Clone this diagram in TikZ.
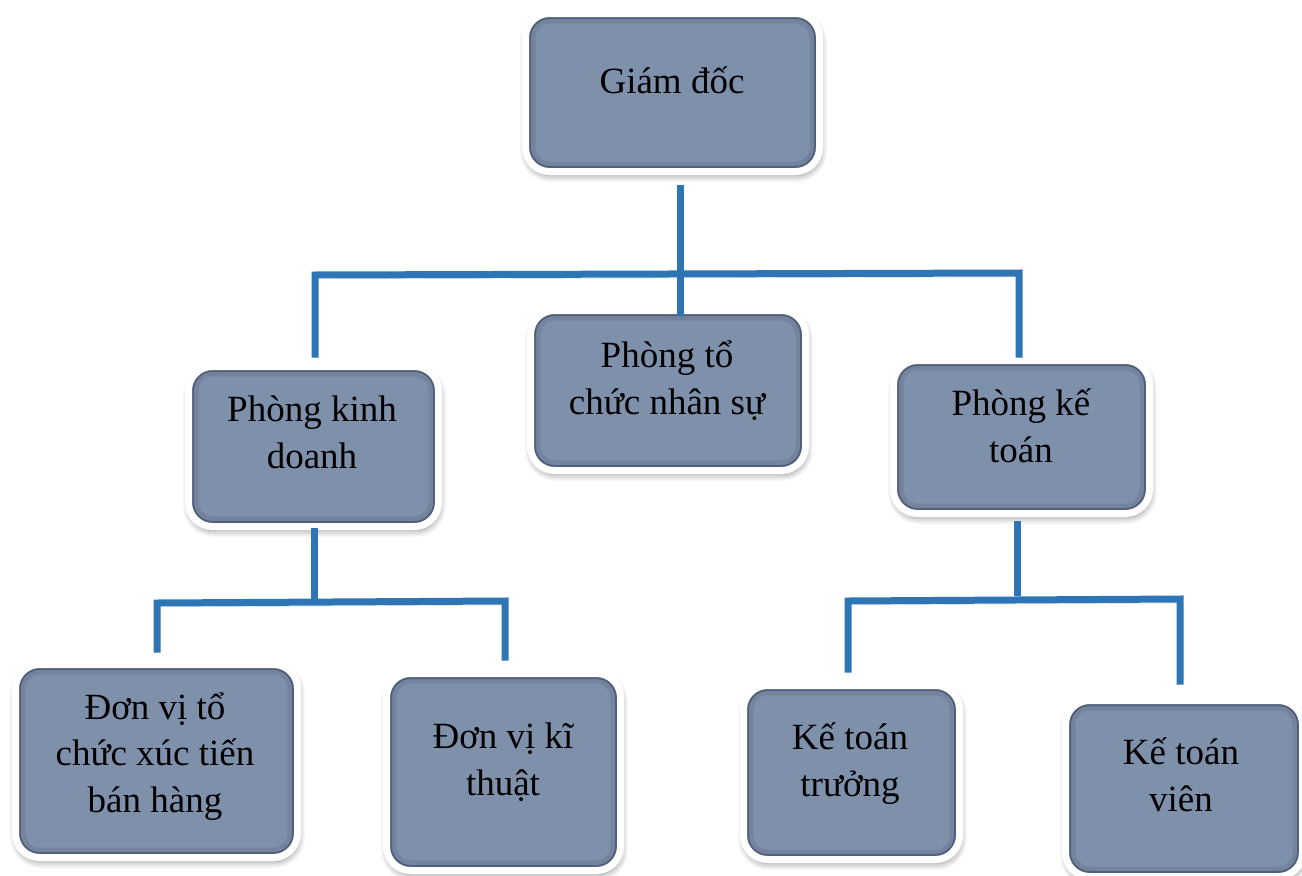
\documentclass[tikz,border=0pt]{standalone}
\usepackage{fontspec}
\setmainfont{Liberation Serif}
\usetikzlibrary{calc,shadows.blur}

\definecolor{boxfill}{RGB}{127,144,171}
\definecolor{boxedge}{RGB}{40,52,75}
\definecolor{linkblue}{RGB}{46,117,182}

\tikzset{
  orgbox/.style={draw=white, line width=7pt, fill=boxfill, rounded corners=24pt,
    inner sep=0pt, outer sep=0pt,
    blur shadow={shadow xshift=1pt, shadow yshift=-4pt, shadow blur steps=10,
      shadow opacity=45, shadow blur radius=7pt, shadow blur extra rounding=6pt},
    path picture={
      \draw[line width=20pt, draw=boxedge, opacity=0.12, rounded corners=24pt]
        (path picture bounding box.south west) rectangle (path picture bounding box.north east);
      \draw[line width=11pt, draw=boxedge, opacity=0.45, rounded corners=24pt]
        (path picture bounding box.south west) rectangle (path picture bounding box.north east);
    }},
  orgtext/.style={align=center, anchor=base, inner sep=0pt, text=black,
    font=\fontsize{37}{46.5}\selectfont},
  conn/.style={draw=linkblue, line width=7pt, line join=miter, line cap=butt,
    preaction={draw=black, opacity=0.18, transform canvas={shift={(1pt,-4pt)}}}}
}

\begin{document}
\begin{tikzpicture}[x=1pt, y=-1pt]
\useasboundingbox (0,0) rectangle (1302,876);

% boxes
\node[orgbox, minimum width=294pt, minimum height=158pt] (gd)  at (672.5,92.5) {};
\node[orgbox, minimum width=250pt, minimum height=160pt] (pkd) at (313.5,446.5) {};
\node[orgbox, minimum width=275pt, minimum height=160pt] (ptc) at (668,390.5) {};
\node[orgbox, minimum width=256pt, minimum height=153pt] (pkt) at (1021.5,437) {};
\node[orgbox, minimum width=282pt, minimum height=193pt] (dv1) at (156.5,761) {};
\node[orgbox, minimum width=234pt, minimum height=197pt] (dv2) at (503.5,772) {};
\node[orgbox, minimum width=216pt, minimum height=174pt] (ktt) at (851.5,772.5) {};
\node[orgbox, minimum width=237pt, minimum height=176pt] (ktv) at (1184,788.5) {};

% texts (anchor base = baseline of the last line)
\node[orgtext] (gdt)  at (672,93)   {Giám đốc};
\node[orgtext] (pkdt) at (312,468)  {Phòng kinh\\doanh};
\node[orgtext] (ptct) at (667,414)  {Phòng tổ\\chức nhân sự};
\node[orgtext] (pktt) at (1021,462) {Phòng kế\\toán};
\node[orgtext] (dv1t) at (155,812)  {Đơn vị tổ\\chức xúc tiến\\bán hàng};
\node[orgtext] (dv2t) at (503,795)  {Đơn vị kĩ\\thuật};
\node[orgtext] (kttt) at (850,796)  {Kế toán\\trưởng};
\node[orgtext] (ktvt) at (1181,811) {Kế toán\\viên};

% junction coordinates
\coordinate (j1) at (680,274);
\coordinate (bl) at (315,275);
\coordinate (br) at (1019,273);
\coordinate (k1) at (314,600);
\coordinate (kl) at (157,603);
\coordinate (kr) at (505,601);
\coordinate (m1) at (1017,596);
\coordinate (ml) at (848,601);
\coordinate (mr) at (1180,599);

% connectors
\draw[conn] ($(gd.south -| j1)+(0,13)$) -- ($(ptc.north -| j1)+(0,5)$);
\draw[conn] ($(pkd.north -| bl)+(0,-9)$) -- (bl) -- (br) -- ($(pkt.north -| br)+(0,-3)$);
\draw[conn] ($(pkd.south -| k1)+(0,1)$) -- (k1);
\draw[conn] ($(dv1.north -| kl)+(0,-12)$) -- (kl) -- (kr) -- ($(dv2.north -| kr)+(0,-13)$);
\draw[conn] ($(pkt.south -| m1)+(0,7)$) -- (m1);
\draw[conn] ($(ktt.north -| ml)+(0,-13)$) -- (ml) -- (mr) -- ($(ktv.north -| mr)+(0,-16)$);
\end{tikzpicture}
\end{document}
